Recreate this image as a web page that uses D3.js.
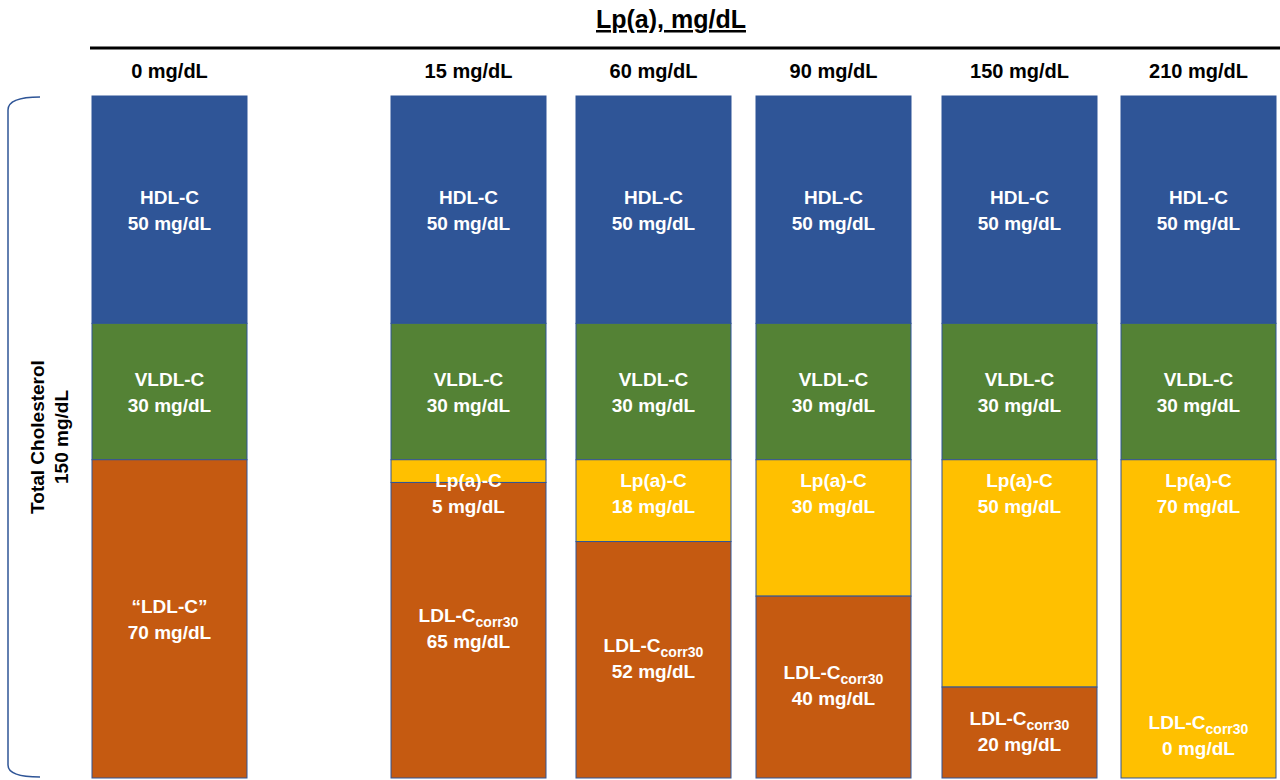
<!DOCTYPE html>
<html><head><meta charset="utf-8">
<script src="https://cdn.jsdelivr.net/npm/d3@7"></script>
<style>body{margin:0;background:#fff}text{font-family:Arial,"Liberation Sans",sans-serif;font-weight:bold}</style>
</head><body><div id="chart"></div>
<script>
// Data
const columns = ["0 mg/dL", "15 mg/dL", "60 mg/dL", "90 mg/dL", "150 mg/dL", "210 mg/dL"];
const hdl = [50, 50, 50, 50, 50, 50];
const vldl = [30, 30, 30, 30, 30, 30];
const lpa = [0, 5, 18, 30, 50, 70];
const ldl = [70, 65, 52, 40, 20, 0];
const total = 150;

const width = 1280, height = 780;
const svg = d3.select("#chart").append("svg").attr("width", width).attr("height", height);

const colX = [92, 391, 576, 756, 942, 1121];
const colW = 155;
const y = d3.scaleLinear().domain([0, total]).range([96, 778]);
const colors = {hdl: "#2f5597", vldl: "#548235", lpa: "#ffc000", ldl: "#c55a11"};

// Title
svg.append("text").attr("x", 671).attr("y", 28).attr("text-anchor", "middle")
  .attr("font-size", 25).attr("text-decoration", "underline").text("Lp(a), mg/dL");
svg.append("line").attr("x1", 90).attr("x2", 1280).attr("y1", 48).attr("y2", 48)
  .attr("stroke", "#000").attr("stroke-width", 3);

// Left brace and label
svg.append("path").attr("d", "M40,97 Q8,97 8,110 L8,765 Q8,777 40,777")
  .attr("fill", "none").attr("stroke", "#2f5597").attr("stroke-width", 1.5);
const yl = svg.append("g").attr("transform", "translate(0,437) rotate(-90)");
yl.append("text").attr("x", 0).attr("y", 44).attr("text-anchor", "middle").attr("font-size", 19).text("Total Cholesterol");
yl.append("text").attr("x", 0).attr("y", 68).attr("text-anchor", "middle").attr("font-size", 19).text("150 mg/dL");

function label(g, cx, cy, l1, l2, sub) {
  const t1 = g.append("text").attr("x", cx).attr("y", cy).attr("text-anchor", "middle")
    .attr("font-size", 19).attr("fill", "#fff");
  t1.append("tspan").text(l1);
  if (sub) t1.append("tspan").attr("font-size", 14).attr("dy", 5).text(sub);
  g.append("text").attr("x", cx).attr("y", cy + 26).attr("text-anchor", "middle")
    .attr("font-size", 19).attr("fill", "#fff").text(l2);
}

columns.forEach((c, i) => {
  const g = svg.append("g");
  const x0 = colX[i], cx = x0 + colW / 2;
  svg.append("text").attr("x", cx).attr("y", 78).attr("text-anchor", "middle").attr("font-size", 20).text(c);
  const segs = [
    {k: "hdl", v: hdl[i]}, {k: "vldl", v: vldl[i]}, {k: "lpa", v: lpa[i]}, {k: "ldl", v: ldl[i]}
  ];
  let acc = 0;
  segs.forEach(s => {
    if (s.v > 0) {
      g.append("rect").attr("x", x0).attr("y", y(acc)).attr("width", colW)
        .attr("height", y(acc + s.v) - y(acc)).attr("fill", colors[s.k])
        .attr("stroke", "#2f5597").attr("stroke-width", 1);
    }
    s.a = acc; acc += s.v;
  });
  const mid = s => (y(s.a) + y(s.a + s.v)) / 2;
  label(g, cx, mid(segs[0]) - 6, "HDL-C", hdl[i] + " mg/dL");
  label(g, cx, mid(segs[1]) - 6, "VLDL-C", vldl[i] + " mg/dL");
  if (lpa[i] > 0) label(g, cx, y(segs[2].a) + 27, "Lp(a)-C", lpa[i] + " mg/dL");
  if (i === 0) label(g, cx, mid(segs[3]) - 6, "\u201cLDL-C\u201d", ldl[i] + " mg/dL");
  else if (ldl[i] > 0) label(g, cx, mid(segs[3]) - 8, "LDL-C", ldl[i] + " mg/dL", "corr30");
  else label(g, cx, 729, "LDL-C", ldl[i] + " mg/dL", "corr30");
});
</script></body></html>
